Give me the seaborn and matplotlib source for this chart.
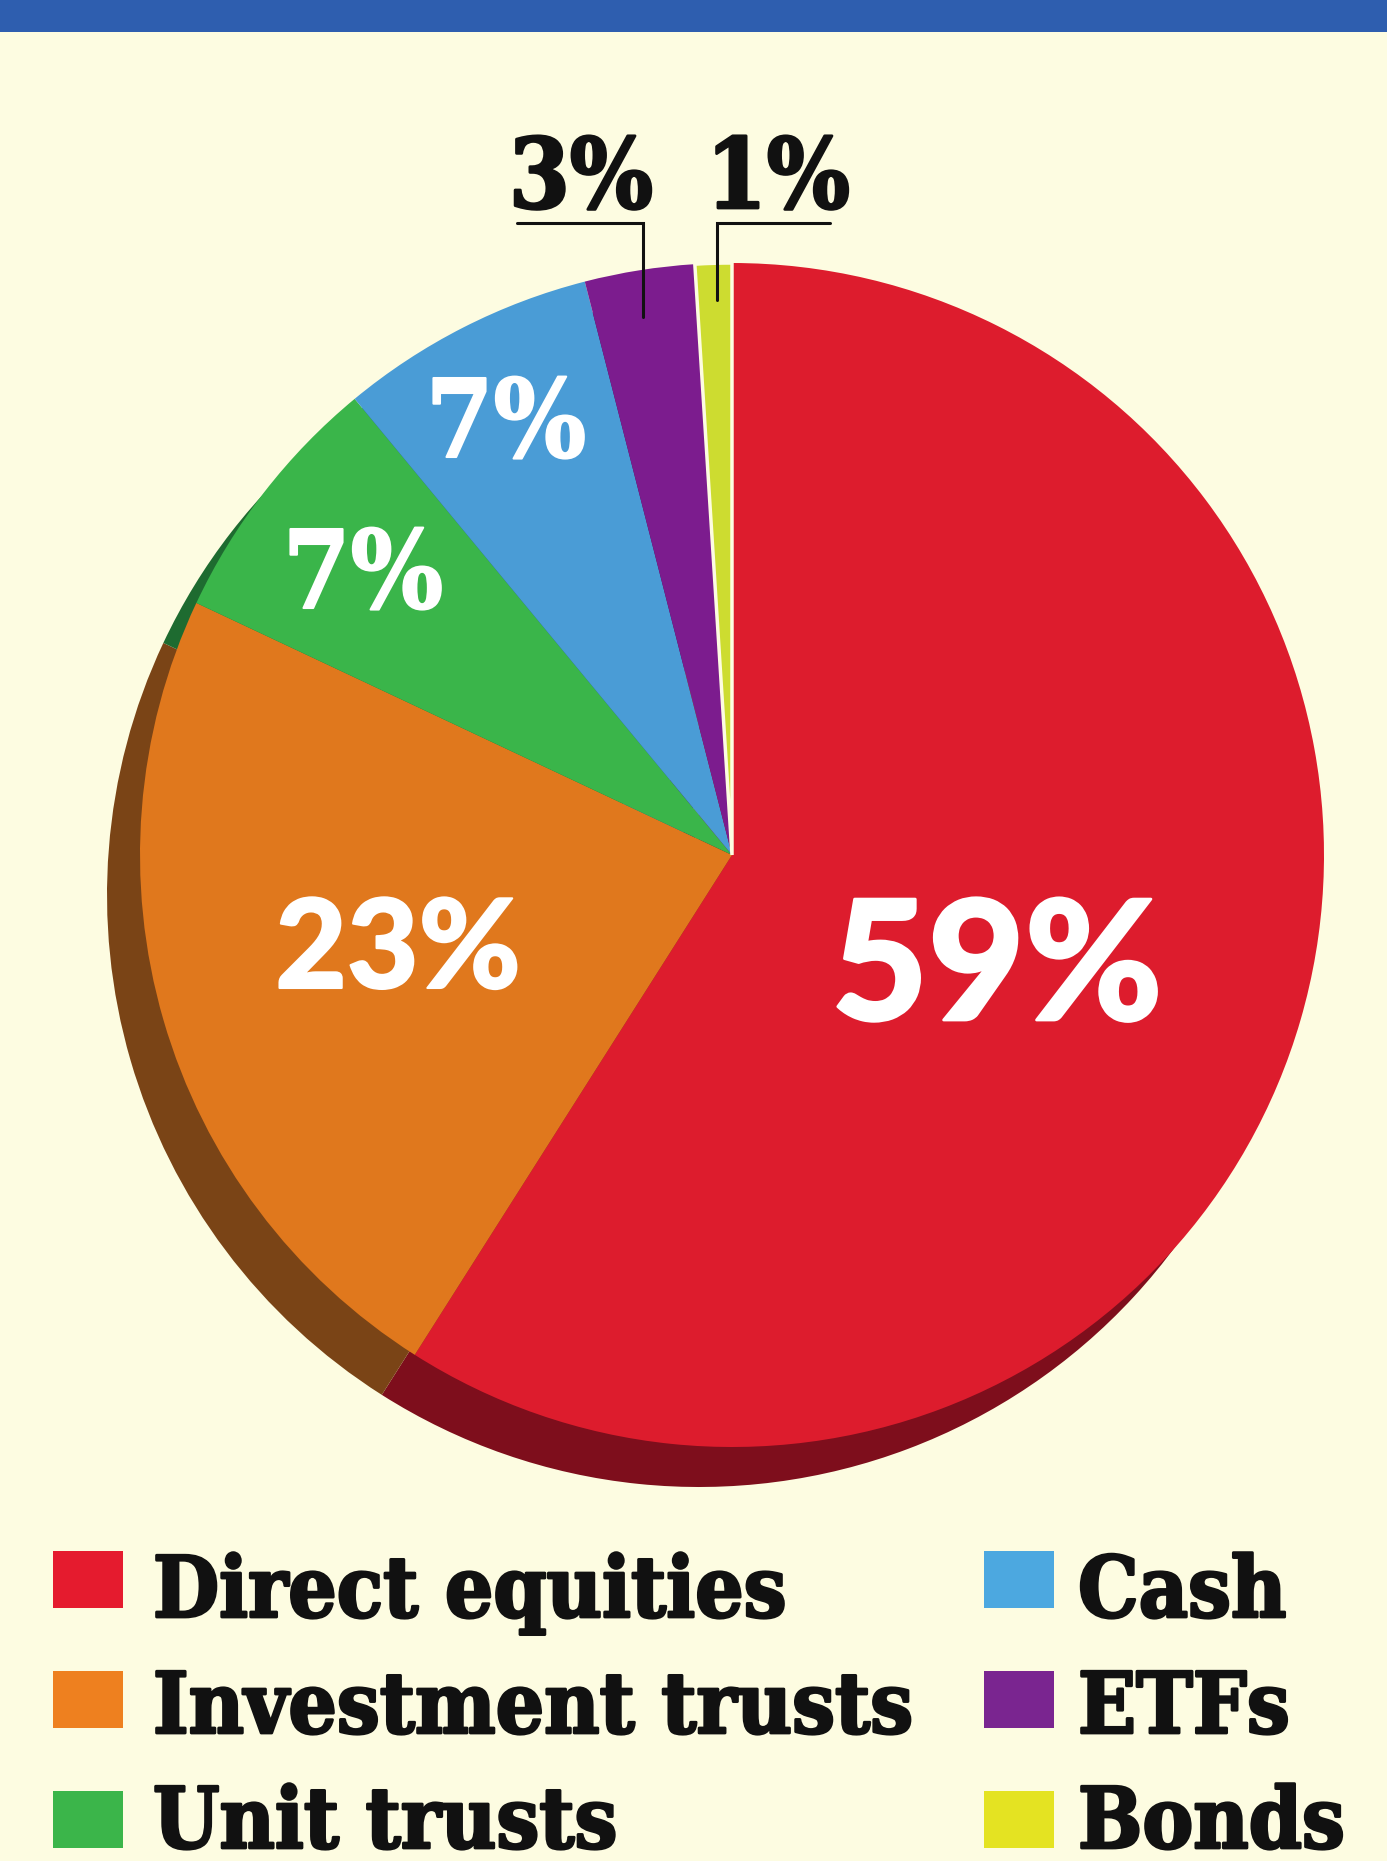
import matplotlib
matplotlib.use("Agg")
import matplotlib.pyplot as plt
import matplotlib.patheffects as pe
from matplotlib.patches import Rectangle
import seaborn as sns

# Portfolio split
categories = ["Direct equities", "Investment trusts", "Unit trusts", "Cash", "ETFs", "Bonds"]
shares = [59, 23, 7, 7, 3, 1]
share_labels = ["59%", "23%", "7%", "7%", "3%", "1%"]

pie_colors = ["#DD1C2D", "#E0781D", "#3AB54A", "#4A9CD6", "#7C1C8E", "#CDDC30"]
shadow_colors = ["#7E0E1C", "#7A4416", "#1E6B30", "#245A80", "#40104A", "#6E7A10"]
key_colors = ["#E51B2E", "#EE801F", "#3BB54A", "#4CA8E0", "#7A2590", "#E4E322"]

BG = "#FDFCE1"
BAR = "#2E5EAF"
INK = "#111111"
W, H = 1387, 1861

sns.set_theme(style="white", rc={"figure.facecolor": BG, "axes.facecolor": BG})
SLAB = ["DejaVu Serif"]
HEAVY = ["Lato", "DejaVu Sans"]


def Y(v):
    # pixel row measured from the top -> axis units measured from the bottom
    return H - v


def heavy(color, width):
    return [pe.withStroke(linewidth=width, foreground=color)]


fig = plt.figure(figsize=(W / 100, H / 100), dpi=100)
ax = fig.add_axes([0, 0, 1, 1])

cx, cy, r = 732, Y(855), 592

# extruded rim underneath the pie
ax.pie(shares, colors=shadow_colors, startangle=90, counterclock=False,
       radius=r, center=(cx - 33, cy - 40), wedgeprops=dict(linewidth=0))
wedges, _ = ax.pie(shares, colors=pie_colors, startangle=90, counterclock=False,
                   radius=r, center=(cx, cy), wedgeprops=dict(linewidth=0))
wedges[-1].set_edgecolor(BG)
wedges[-1].set_linewidth(2.5)

ax.set_xlim(0, W)
ax.set_ylim(0, H)
ax.set_aspect("auto")
ax.axis("off")

# header strip
ax.add_patch(Rectangle((0, Y(32)), W, 32, facecolor=BAR, edgecolor="none"))

# slice values inside the pie
ax.text(997, Y(1020), share_labels[0], color="white", fontsize=120, family=HEAVY,
        fontweight="black", ha="center", va="baseline",
        path_effects=heavy("white", 2))
ax.text(398, Y(988), share_labels[1], color="white", fontsize=89, family=HEAVY,
        fontweight="black", ha="center", va="baseline",
        path_effects=heavy("white", 1.5))
ax.text(363, Y(608), share_labels[2], color="white", fontsize=78, family=SLAB,
        fontweight="bold", fontstretch="condensed", ha="center", va="baseline",
        path_effects=heavy("white", 1.5))
ax.text(506, Y(457), share_labels[3], color="white", fontsize=78, family=SLAB,
        fontweight="bold", fontstretch="condensed", ha="center", va="baseline",
        path_effects=heavy("white", 1.5))

# small slices labelled outside with leader lines
ax.text(581, Y(208), share_labels[4], color=INK, fontsize=70, family=SLAB,
        fontweight="bold", fontstretch="condensed", ha="center", va="baseline",
        path_effects=heavy(INK, 2))
ax.text(778, Y(208), share_labels[5], color=INK, fontsize=70, family=SLAB,
        fontweight="bold", fontstretch="condensed", ha="center", va="baseline",
        path_effects=heavy(INK, 2))
lw = 2.2
ax.plot([517, 643, 643], [Y(223), Y(223), Y(317)], color=INK, lw=lw,
        solid_joinstyle="miter")
ax.plot([830, 717, 717], [Y(223), Y(223), Y(300)], color=INK, lw=lw,
        solid_joinstyle="miter")

# key
sq_w, sq_h = 70, 57
rows_top = [1551, 1671, 1791]
rows_base = [1617, 1733, 1848]
cols = [(53, 153), (984, 1078)]
for i, (name, col) in enumerate(zip(categories, key_colors)):
    c, rw = divmod(i, 3)
    sx, tx = cols[c]
    ax.add_patch(Rectangle((sx, Y(rows_top[rw] + sq_h)), sq_w, sq_h,
                           facecolor=col, edgecolor="none"))
    ax.text(tx, Y(rows_base[rw]), name, color=INK, fontsize=61, family=SLAB,
            fontweight="bold", fontstretch="condensed", ha="left", va="baseline",
            path_effects=heavy(INK, 2))

fig.savefig("out.png", dpi=100, facecolor=BG)
